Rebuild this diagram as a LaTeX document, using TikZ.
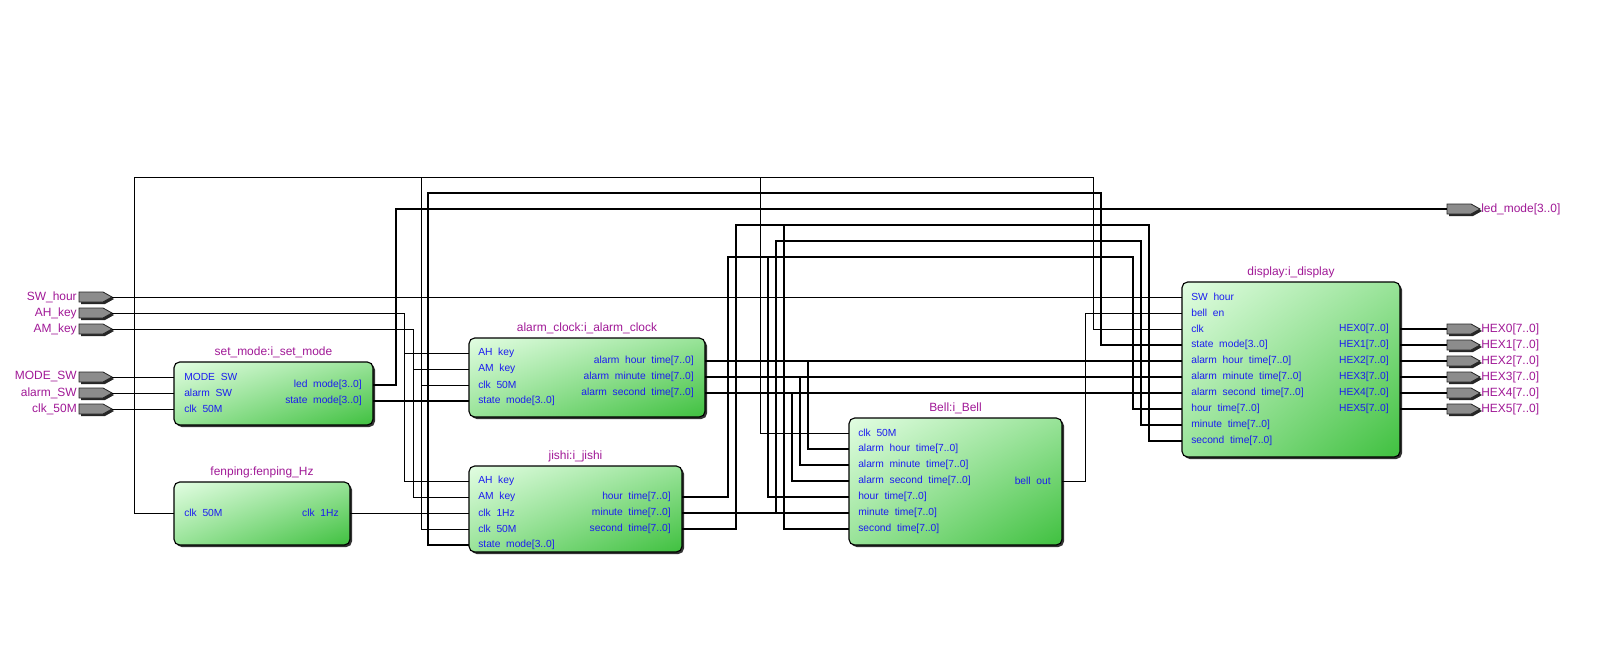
\documentclass[tikz,border=0pt]{standalone}
\usepackage{fontspec}
\setmainfont{Liberation Sans}
\usetikzlibrary{fit,shadows,shadings}
\definecolor{portblue}{HTML}{1C1CF0}
\definecolor{pinpurple}{HTML}{A01896}
\definecolor{boxlight}{HTML}{E2FDE2}
\definecolor{boxdark}{HTML}{3FC03F}
\definecolor{boxmid}{HTML}{98E398}
\tikzset{
  block/.style={draw=black, line width=0.8pt, rounded corners=4pt, inner sep=0pt,
    upper left=boxlight, lower right=boxdark, upper right=boxmid, lower left=boxmid,
    drop shadow={shadow xshift=0.05cm, shadow yshift=-0.05cm, opacity=1, fill=black!80}},
  title/.style={text=pinpurple, font=\fontsize{8.5}{9}\selectfont, anchor=south, inner sep=2pt},
  pin/.style={text=portblue, font=\fontsize{7.3}{8}\selectfont, inner sep=0pt},
  lbl/.style={text=pinpurple, font=\fontsize{8.5}{9}\selectfont, inner sep=0pt},
  wire/.style={line width=0.5pt},
  bus/.style={line width=1.6pt}
}
% io pin: body from x to x+33, tip at the right
\newcommand{\iopin}[3]{%
  \fill[black!85] (#1+2,#2-3) -- (#1+26,#2-3) -- (#1+35,#2+2) -- (#1+26,#2+7) -- (#1+2,#2+7) -- cycle;
  \filldraw[fill=black!45, draw=black!85, line width=0.6pt] (#1,#2-5) -- (#1+24,#2-5) -- (#1+33,#2) -- (#1+24,#2+5) -- (#1,#2+5) -- cycle;
  \coordinate (#3) at (#1+33,#2);}
\begin{document}
\begin{tikzpicture}[x=0.025cm, y=-0.025cm]
  \useasboundingbox (0,0) rectangle (1600,659);
  % input and output pins
  \iopin{79}{297}{swhour}   \node[lbl, anchor=east] at (77,297) {SW\_hour};
  \iopin{79}{313}{ahkey}    \node[lbl, anchor=east] at (77,313) {AH\_key};
  \iopin{79}{329}{amkey}    \node[lbl, anchor=east] at (77,329) {AM\_key};
  \iopin{79}{377}{modesw}   \node[lbl, anchor=east] at (77,377) {MODE\_SW};
  \iopin{79}{393}{alarmsw}  \node[lbl, anchor=east] at (77,393) {alarm\_SW};
  \iopin{79}{409}{clkin}    \node[lbl, anchor=east] at (77,409) {clk\_50M};
  \iopin{1447}{209}{ledout} \node[lbl, anchor=west] at (1481,209) {led\_mode[3..0]};
  \foreach \i in {0,...,5} {
    \iopin{1447}{329+16*\i}{hexout\i}
    \node[lbl, anchor=west] at (1481,329+16*\i) {HEX\i[7..0]};
  }
  % blocks
  \node[block, fit={(174,362)(373,425)}] (setmode) {};
  \node[title] at (setmode.north) {set\_mode:i\_set\_mode};
  \node[block, fit={(174,482)(350,545)}] (fenping) {};
  \node[title] at (fenping.north) {fenping:fenping\_Hz};
  \node[block, fit={(469,338)(705,417)}] (alarm) {};
  \node[title] at (alarm.north) {alarm\_clock:i\_alarm\_clock};
  \node[block, fit={(469,466)(682,552)}] (jishi) {};
  \node[title] at (jishi.north) {jishi:i\_jishi};
  \node[block, fit={(849,418)(1062,545)}] (bell) {};
  \node[title] at (bell.north) {Bell:i\_Bell};
  \node[block, fit={(1182,282)(1400,457)}] (disp) {};
  \node[title] at (disp.north) {display:i\_display};
  % port labels
  \node[pin, anchor=west] at (184,377) {MODE~~SW};
  \node[pin, anchor=west] at (184,393) {alarm~~SW};
  \node[pin, anchor=west] at (184,409) {clk~~50M};
  \node[pin, anchor=east] at (362,385) {led~~mode[3..0]};
  \node[pin, anchor=east] at (362,401) {state~~mode[3..0]};
  \node[pin, anchor=west] at (184,513) {clk~~50M};
  \node[pin, anchor=east] at (339,513) {clk~~1Hz};
  \foreach \t [count=\k from 0] in {AH~~key,AM~~key,clk~~50M,state~~mode[3..0]}
    \node[pin, anchor=west] at (478,353+16*\k) {\t};
  \foreach \t [count=\k from 0] in {alarm~~hour~~time[7..0],alarm~~minute~~time[7..0],alarm~~second~~time[7..0]}
    \node[pin, anchor=east] at (694,361+16*\k) {\t};
  \foreach \t [count=\k from 0] in {AH~~key,AM~~key,clk~~1Hz,clk~~50M,state~~mode[3..0]}
    \node[pin, anchor=west] at (478,481+16*\k) {\t};
  \foreach \t [count=\k from 0] in {hour~~time[7..0],minute~~time[7..0],second~~time[7..0]}
    \node[pin, anchor=east] at (671,497+16*\k) {\t};
  \foreach \t [count=\k from 0] in {clk~~50M,alarm~~hour~~time[7..0],alarm~~minute~~time[7..0],alarm~~second~~time[7..0],hour~~time[7..0],minute~~time[7..0],second~~time[7..0]}
    \node[pin, anchor=west] at (858,433+16*\k) {\t};
  \node[pin, anchor=east] at (1051,481) {bell~~out};
  \foreach \t [count=\k from 0] in {SW~~hour,bell~~en,clk,state~~mode[3..0],alarm~~hour~~time[7..0],alarm~~minute~~time[7..0],alarm~~second~~time[7..0],hour~~time[7..0],minute~~time[7..0],second~~time[7..0]}
    \node[pin, anchor=west] at (1191,297+16*\k) {\t};
  \foreach \k in {0,...,5}
    \node[pin, anchor=east] at (1389,329+16*\k) {HEX\k[7..0]};
  % thin wires
  \draw[wire] (swhour) -- (1182,297);
  \draw[wire] (ahkey) -- (404,313) -- (404,481) -- (469,481) (404,353) -- (469,353);
  \draw[wire] (amkey) -- (413,329) -- (413,497) -- (469,497) (413,369) -- (469,369);
  \draw[wire] (modesw) -- (174,377);
  \draw[wire] (alarmsw) -- (174,393);
  \draw[wire] (clkin) -- (174,409);
  \draw[wire] (134,409) -- (134,177) -- (1093,177) -- (1093,329) -- (1182,329);
  \draw[wire] (134,409) -- (134,513) -- (174,513);
  \draw[wire] (421,177) -- (421,529) -- (469,529) (421,385) -- (469,385);
  \draw[wire] (760,177) -- (760,433) -- (849,433);
  \draw[wire] (350,513) -- (469,513);
  \draw[wire] (1062,481) -- (1085,481) -- (1085,313) -- (1182,313);
  % buses
  \draw[bus] (373,385) -- (396,385) -- (396,209) -- (1447,209);
  \draw[bus] (373,401) -- (469,401);
  \draw[bus] (469,545) -- (428,545) -- (428,193) -- (1101,193) -- (1101,345) -- (1182,345);
  \draw[bus] (705,361) -- (1182,361) (808,361) -- (808,449) -- (849,449);
  \draw[bus] (705,377) -- (1182,377) (800,377) -- (800,465) -- (849,465);
  \draw[bus] (705,393) -- (1182,393) (792,393) -- (792,481) -- (849,481);
  \draw[bus] (682,497) -- (728,497) -- (728,257) -- (1133,257) -- (1133,409) -- (1182,409);
  \draw[bus] (768,257) -- (768,497) -- (849,497);
  \draw[bus] (682,513) -- (849,513) (776,513) -- (776,241) -- (1141,241) -- (1141,425) -- (1182,425);
  \draw[bus] (682,529) -- (736,529) -- (736,225) -- (1149,225) -- (1149,441) -- (1182,441);
  \draw[bus] (784,225) -- (784,529) -- (849,529);
  \foreach \k in {0,...,5}
    \draw[bus] (1400,329+16*\k) -- (1447,329+16*\k);
\end{tikzpicture}
\end{document}
